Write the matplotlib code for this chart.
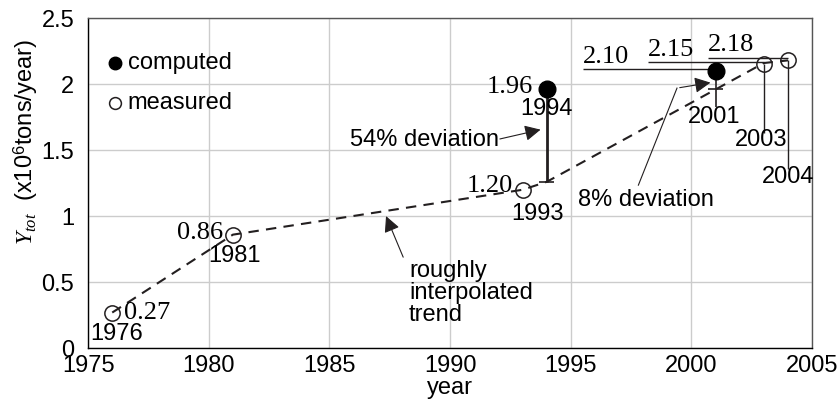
import matplotlib
matplotlib.use("Agg")
import matplotlib.pyplot as plt

plt.rcParams['font.family'] = ['Liberation Sans', 'DejaVu Sans']
plt.rcParams['mathtext.fontset'] = 'custom'
plt.rcParams['mathtext.it'] = 'Liberation Serif:italic'
plt.rcParams['mathtext.rm'] = 'Liberation Sans'

# measured points
meas_year = [1976, 1981, 1993, 2003, 2004]
meas_val = [0.27, 0.86, 1.20, 2.15, 2.18]
meas_lbl = ['0.27', '0.86', '1.20', '2.15', '2.18']

# computed points
comp_year = [1994, 2001]
comp_val = [1.96, 2.10]
comp_lbl = ['1.96', '2.10']

# roughly interpolated trend
trend_year = [1976, 1981, 1993, 1994, 2003, 2004]
trend_val = [0.27, 0.86, 1.20, 1.26, 2.16, 2.18]

ink = '#231f20'
serif = 'Liberation Serif'
fs = 17     # sans text
fsn = 19    # serif numbers

fig = plt.figure(figsize=(8.39, 4.03), dpi=100)
ax = fig.add_axes([0.105, 0.136, 0.863, 0.819])

ax.grid(True, color='#cccccc', lw=1)
ax.set_axisbelow(True)

ax.plot(trend_year, trend_val, ls=(0, (5, 3.5)), color=ink, lw=1.5, zorder=2)
ax.plot(meas_year, meas_val, 'o', mfc='none', mec=ink, ms=11, mew=1.1, zorder=3)
ax.plot(comp_year, comp_val, 'o', color='black', ms=12, zorder=3)

# deviation bars
ax.vlines(comp_year[0], trend_val[3], comp_val[0], color=ink, lw=2, zorder=2)
ax.hlines(trend_val[3], 1993.7, 1994.3, color=ink, lw=1.2)
ax.vlines(comp_year[1], 1.83, comp_val[1], color=ink, lw=1.2)
ax.hlines(1.965, 2000.7, 2001.3, color=ink, lw=1.2)

# leader lines for 2003 / 2004
ax.vlines(meas_year[3], 1.63, meas_val[3], color=ink, lw=1)
ax.vlines(meas_year[4], 1.36, meas_val[4], color=ink, lw=1)

# underlined value labels at the top
ax.hlines(2.115, 1995.5, comp_year[1], color=ink, lw=1)
ax.hlines(2.165, 1998.2, meas_year[3], color=ink, lw=1)
ax.hlines(2.20, 2000.7, meas_year[4], color=ink, lw=1)
ax.text(1995.5, 2.125, comp_lbl[1], family=serif, fontsize=fsn, va='bottom')
ax.text(1998.2, 2.175, meas_lbl[3], family=serif, fontsize=fsn, va='bottom')
ax.text(2000.7, 2.21, meas_lbl[4], family=serif, fontsize=fsn, va='bottom')

# point labels
ax.text(1976.5, 0.27, meas_lbl[0], family=serif, fontsize=fsn, va='center')
ax.text(1976.2, 0.11, '1976', fontsize=fs, ha='center', va='center')
ax.text(1980.6, 0.87, meas_lbl[1], family=serif, fontsize=fsn, va='center', ha='right')
ax.text(1981.05, 0.70, '1981', fontsize=fs, ha='center', va='center')
ax.text(1992.6, 1.23, meas_lbl[2], family=serif, fontsize=fsn, va='center', ha='right')
ax.text(1993.6, 1.02, '1993', fontsize=fs, ha='center', va='center')
ax.text(1993.45, 1.98, comp_lbl[0], family=serif, fontsize=fsn, va='center', ha='right')
ax.text(1994.0, 1.81, '1994', fontsize=fs, ha='center', va='center')
ax.text(2000.95, 1.75, '2001', fontsize=fs, ha='center', va='center')
ax.text(2002.9, 1.58, '2003', fontsize=fs, ha='center', va='center')
ax.text(2004.0, 1.30, '2004', fontsize=fs, ha='center', va='center')

# legend
ax.plot([1976.1], [2.16], 'o', color='black', ms=9)
ax.plot([1976.1], [1.86], 'o', mfc='none', mec=ink, ms=8.5, mew=1.1)
ax.text(1976.65, 2.16, 'computed', fontsize=fs, va='center')
ax.text(1976.65, 1.86, 'measured', fontsize=fs, va='center')

# annotations
arrow = dict(arrowstyle='-|>', color=ink, lw=0.8, mutation_scale=24)
ax.text(1985.85, 1.58, '54% deviation', fontsize=fs, va='center')
ax.annotate('', xy=(1993.86, 1.66), xytext=(1991.95, 1.58), arrowprops=arrow)
ax.text(1995.3, 1.12, '8% deviation', fontsize=fs, va='center')
ax.plot([1997.8, 1999.4], [1.235, 1.97], color=ink, lw=0.8)
ax.annotate('', xy=(2000.9, 2.015), xytext=(1999.4, 1.97), arrowprops=arrow)
ax.text(1988.3, 0.42, 'roughly\ninterpolated\ntrend', fontsize=fs, va='center',
        linespacing=1.0)
ax.annotate('', xy=(1987.3, 1.02), xytext=(1988.1, 0.67), arrowprops=arrow)

ax.set_xlim(1975, 2005)
ax.set_ylim(0, 2.5)
ax.set_xticks(range(1975, 2006, 5))
ax.set_yticks([0, 0.5, 1, 1.5, 2, 2.5])
ax.set_yticklabels(['0', '0.5', '1', '1.5', '2', '2.5'])
ax.tick_params(length=0, labelsize=fs, colors='black')
ax.tick_params(axis='y', pad=10)
ax.tick_params(axis='x', pad=5)
for s in ['top', 'right']:
    ax.spines[s].set_color('#555555')
for s in ax.spines.values():
    s.set_linewidth(1)

ax.set_xlabel('year', fontsize=fs, labelpad=0)
fig.text(0.03, 1 - 142 / 403, r'$Y_{tot}$  (x10$^{6}$tons/year)', rotation=90,
         fontsize=fs, ha='center', va='center')

fig.savefig('out.png', dpi=100)
